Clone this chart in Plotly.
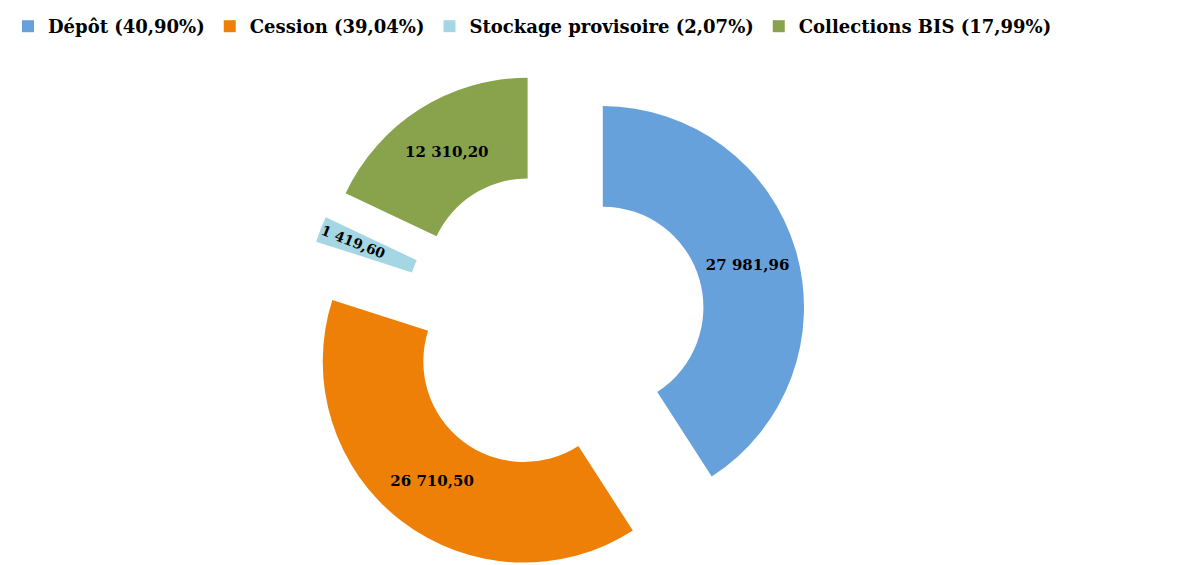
import plotly.graph_objects as go

categories = ["Dépôt", "Cession", "Stockage provisoire", "Collections BIS"]
values = [27981.96, 26710.50, 1419.60, 12310.20]
colors = ["#67A1DC", "#EE8008", "#A5D6E4", "#88A34C"]

total = sum(values)
labels = [f"{c} ({v / total * 100:.2f}%)".replace(".", ",") for c, v in zip(categories, values)]

FONT = "DejaVu Serif"

fig = go.Figure(
    go.Pie(
        labels=labels,
        values=values,
        marker=dict(colors=colors, line=dict(width=0)),
        hole=0.5,
        pull=[0.25] * len(values),
        sort=False,
        direction="clockwise",
        rotation=0,
        texttemplate="<b>%{value:,.2f}</b>",
        textposition="inside",
        insidetextorientation="auto",
        textfont=dict(family=FONT, size=15, color="black"),
        domain=dict(x=[0.162, 0.762], y=[0, 1]),
    )
)

fig.update_layout(
    width=1183,
    height=565,
    separators=", ",
    paper_bgcolor="white",
    plot_bgcolor="white",
    margin=dict(l=0, r=0, t=62, b=0),
    showlegend=True,
    legend=dict(
        orientation="h",
        x=0.0,
        xref="container",
        xanchor="left",
        y=1.0,
        yref="container",
        yanchor="top",
        font=dict(family=FONT, size=18, color="black", weight="bold"),
        itemwidth=30,
        traceorder="normal",
    ),
)

fig.write_html("out.html")
